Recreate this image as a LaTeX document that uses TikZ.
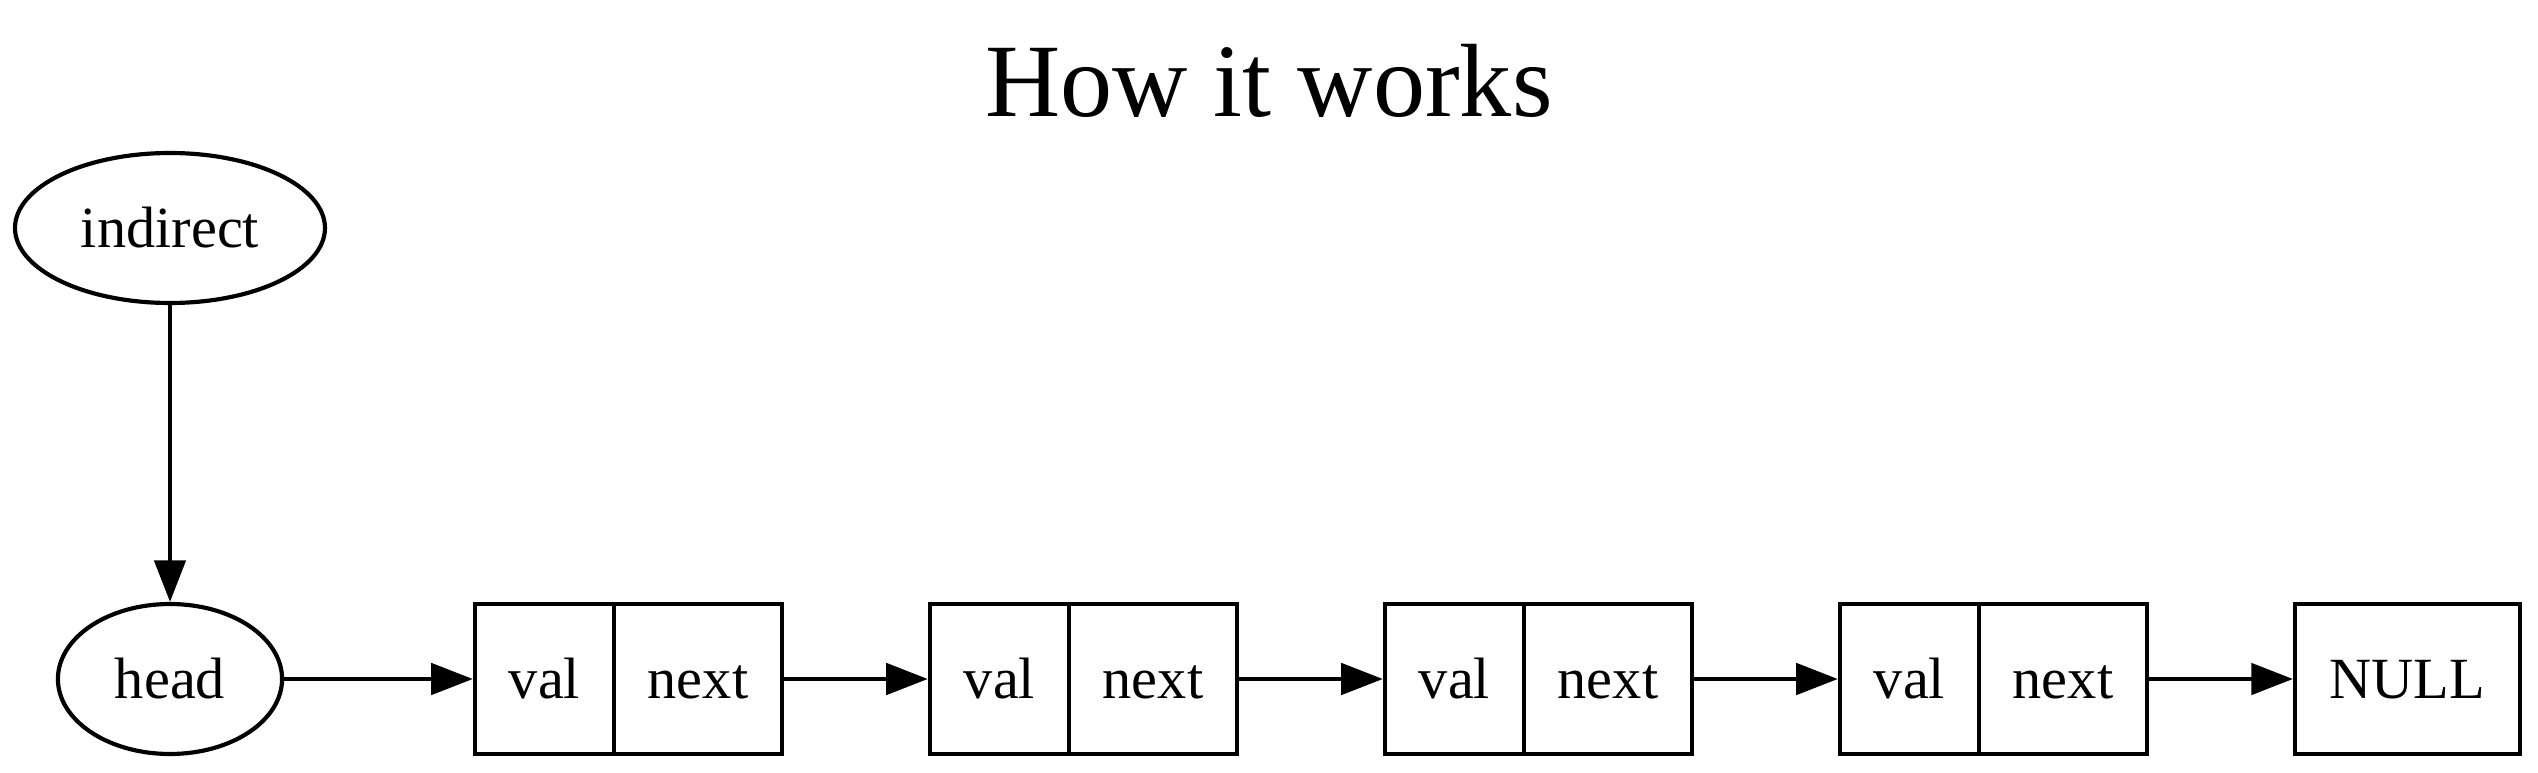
\documentclass[tikz,border=0pt]{standalone}
\usepackage{fontspec}
\setmainfont{Liberation Serif}
\usetikzlibrary{arrows.meta,shapes.geometric}
\tikzset{
  lbl/.style={font=\fontsize{14}{16}\selectfont, inner sep=0pt, text height=9.4pt, text depth=0pt, line width=1pt},
  oval/.style={lbl, draw, ellipse, minimum height=36pt},
  cell/.style={lbl, draw, rectangle, minimum height=36pt},
  valcell/.style={cell, minimum width=33.4pt},
  nextcell/.style={cell, minimum width=40.3pt},
  nullcell/.style={cell, minimum width=54pt},
  arr/.style={line width=1pt, -{Triangle[length=10pt,width=7.5pt]}}
}
\begin{document}
\begin{tikzpicture}[x=0.24pt,y=-0.24pt]
\useasboundingbox (0,0) rectangle (2538,773);
\node[font=\fontsize{25}{30}\selectfont, anchor=base, inner sep=0pt] (title) at (1269,117) {How it works};
\node[oval, minimum width=74.4pt] (indirect) at (170,228) {indirect};
\node[oval, minimum width=53.8pt] (head) at (170,679) {head};
\node[valcell] (v1) at (544.5,679) {val};
\node[nextcell] (n1) at (698,679) {next};
\node[valcell] (v2) at (999.5,679) {val};
\node[nextcell] (n2) at (1153,679) {next};
\node[valcell] (v3) at (1454.5,679) {val};
\node[nextcell] (n3) at (1608,679) {next};
\node[valcell] (v4) at (1909.5,679) {val};
\node[nextcell] (n4) at (2063,679) {next};
\node[nullcell] (null) at (2407.5,679) {NULL};
\draw[arr] (indirect) -- (head);
\draw[arr] (head) -- (v1);
\draw[arr] (n1) -- (v2);
\draw[arr] (n2) -- (v3);
\draw[arr] (n3) -- (v4);
\draw[arr] (n4) -- (null);
\end{tikzpicture}
\end{document}
